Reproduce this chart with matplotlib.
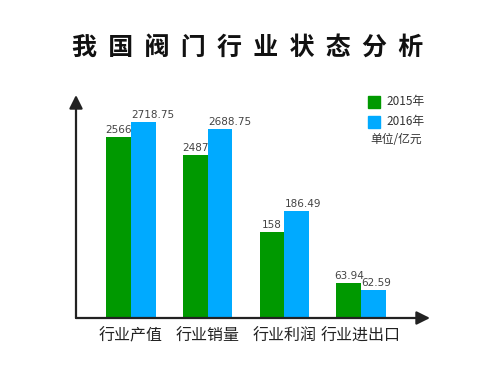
import matplotlib
matplotlib.use("Agg")
import matplotlib.pyplot as plt
import numpy as np

plt.rcParams['font.family'] = ['Noto Sans CJK SC', 'DejaVu Sans']

categories = ["行业产值", "行业销量", "行业利润", "行业进出口"]
series = ["2015年", "2016年"]
values_2015 = ["2566", "2487", "158", "63.94"]
values_2016 = ["2718.75", "2688.75", "186.49", "62.59"]
# the bars in the picture are not drawn to scale, so the drawn heights are kept apart
height_2015 = [181, 163, 86, 35]
height_2016 = [196, 189, 107, 28]
colors = ["#009900", "#00aaff"]

fig = plt.figure(figsize=(5, 3.75), dpi=100)
W, H = 500, 375
ax = fig.add_axes([76 / W, (H - 318) / H, (430 - 76) / W, (318 - 95) / H])

x = np.arange(len(categories))
bw = 0.32
ax.bar(x - bw / 2, height_2015, bw, color=colors[0], label=series[0])
ax.bar(x + bw / 2, height_2016, bw, color=colors[1], label=series[1])

for i in range(len(categories)):
    ax.annotate(values_2015[i], (x[i] - bw / 2, height_2015[i]), xytext=(0, 1.5),
                textcoords="offset points", ha="center", va="bottom",
                fontsize=7.5, color="#444444", family="DejaVu Sans")
    ax.annotate(values_2016[i], (x[i], height_2016[i]), xytext=(0.5, 1.5),
                textcoords="offset points", ha="left", va="bottom",
                fontsize=7.5, color="#444444", family="DejaVu Sans")

ax.set_xlim(-0.717, 3.90)
ax.set_ylim(0, 223)
for s in ax.spines.values():
    s.set_visible(False)
ax.set_yticks([])
ax.set_xticks(x)
ax.set_xticklabels(categories, fontsize=11.5, color="#222222")
ax.tick_params(axis="x", length=0, pad=7)

arrow = dict(arrowstyle="-|>,head_length=0.8,head_width=0.4", color="#222222", lw=1.6,
             shrinkA=0, shrinkB=0)
ax.annotate("", xy=(0, 1.0), xytext=(0, 0), xycoords="axes fraction", arrowprops=arrow,
            annotation_clip=False)
ax.annotate("", xy=(1.0, 0), xytext=(0, 0), xycoords="axes fraction", arrowprops=arrow,
            annotation_clip=False)

fig.text(0.495, (H - 48) / H, "  ".join("我国阀门行业状态分析"), ha="center", va="center",
         fontsize=18, fontweight="heavy", color="#111111")

# legend
for k, (lab, c) in enumerate(zip(series, colors)):
    yc = 102 + 20 * k
    fig.patches.append(plt.Rectangle((368 / W, (H - yc - 6) / H), 12 / W, 12 / H,
                                     color=c, transform=fig.transFigure))
    fig.text(386 / W, (H - yc) / H, lab, ha="left", va="center", fontsize=8.5,
             color="#333333")
fig.text(370 / W, (H - 140) / H, "单位/亿元", ha="left", va="center", fontsize=8.5,
         color="#333333")

fig.savefig("out.png", dpi=100)
